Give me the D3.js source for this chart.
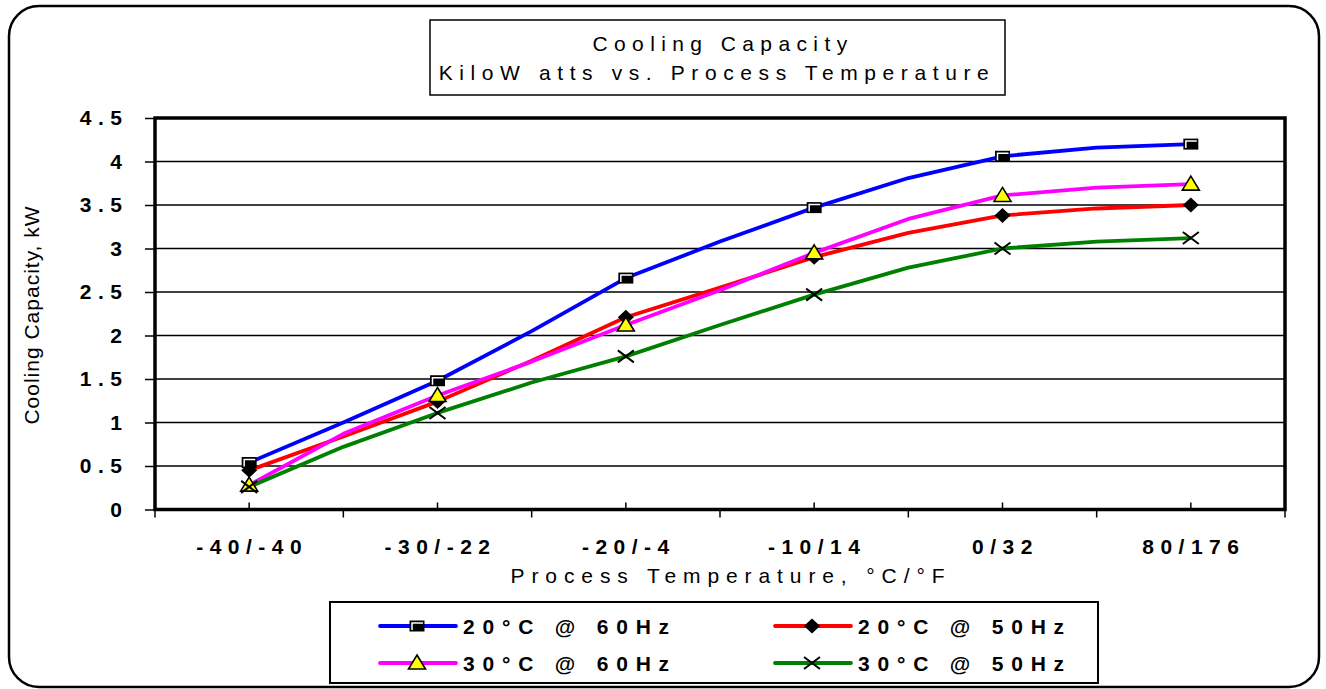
<!DOCTYPE html>
<html>
<head>
<meta charset="utf-8">
<script src="https://cdn.jsdelivr.net/npm/d3@7"></script>
<style>
  body { margin: 0; background: #fff; }
  svg text { font-family: "Liberation Sans", Arial, sans-serif; fill: #000; }
</style>
</head>
<body>
<div id="chart"></div>
<script>
// categories on the x axis (labels at whole steps)
const categories = ["-40/-40", "-30/-22", "-20/-4", "-10/14", "0/32", "80/176"];
// x position of every data point, in category steps
const xSteps = [0, 0.5, 1, 1.5, 2, 2.5, 3, 3.5, 4, 4.5, 5];
// cooling capacity, kW
const blue60 = [0.54, 1.0, 1.48, 2.05, 2.66, 3.08, 3.47, 3.81, 4.06, 4.16, 4.2];
const red50 = [0.45, 0.84, 1.24, 1.71, 2.21, 2.55, 2.9, 3.18, 3.38, 3.46, 3.5];
const pink60 = [0.28, 0.87, 1.31, 1.7, 2.12, 2.52, 2.95, 3.34, 3.61, 3.7, 3.74];
const green50 = [0.26, 0.72, 1.11, 1.46, 1.76, 2.12, 2.47, 2.78, 3.0, 3.08, 3.12];
const yTicks = [0, 0.5, 1, 1.5, 2, 2.5, 3, 3.5, 4, 4.5];
const seriesNames = ["20°C @ 60Hz", "20°C @ 50Hz", "30°C @ 60Hz", "30°C @ 50Hz"];

const width = 1326;
const height = 689;
const plot = { left: 155, right: 1285, top: 118, bottom: 509.5 };

const series = [
  { name: seriesNames[0], values: blue60, color: "#0000ff", marker: "square" },
  { name: seriesNames[1], values: red50, color: "#ff0000", marker: "diamond" },
  { name: seriesNames[2], values: pink60, color: "#ff00ff", marker: "triangle" },
  { name: seriesNames[3], values: green50, color: "#008000", marker: "cross" },
];

const svg = d3
  .select("#chart")
  .append("svg")
  .attr("width", width)
  .attr("height", height);

// outer rounded frame
svg
  .append("rect")
  .attr("x", 9)
  .attr("y", 6)
  .attr("width", 1310)
  .attr("height", 681)
  .attr("rx", 30)
  .attr("fill", "#fff")
  .attr("stroke", "#000")
  .attr("stroke-width", 2.5);

const x = d3.scaleLinear().domain([-0.5, 5.5]).range([plot.left, plot.right]);
const y = d3.scaleLinear().domain([0, 4.5]).range([plot.bottom, plot.top]);

// gridlines
svg
  .append("g")
  .selectAll("line")
  .data(yTicks.slice(1, -1))
  .enter()
  .append("line")
  .attr("x1", plot.left)
  .attr("x2", plot.right)
  .attr("y1", (d) => y(d))
  .attr("y2", (d) => y(d))
  .attr("stroke", "#000")
  .attr("stroke-width", 1.3);

// y axis
const yAxis = svg
  .append("g")
  .attr("transform", `translate(${plot.left},0)`)
  .call(d3.axisLeft(y).tickValues(yTicks).tickSize(10).tickPadding(16.5).tickFormat(d3.format("")));
yAxis.select(".domain").remove();
yAxis.selectAll(".tick line").attr("stroke", "#000").attr("stroke-width", 1.5);
yAxis
  .selectAll(".tick text")
  .attr("font-size", 21)
  .attr("font-weight", "bold")
  .attr("letter-spacing", 6.5)
  .attr("font-family", "Liberation Sans, Arial, sans-serif");

// x axis: outward ticks at category borders, inward ticks at category centres
const xBorders = d3.range(-0.5, 6, 1);
svg
  .append("g")
  .selectAll("line")
  .data(xBorders)
  .enter()
  .append("line")
  .attr("x1", (d) => x(d))
  .attr("x2", (d) => x(d))
  .attr("y1", plot.bottom)
  .attr("y2", plot.bottom + 8)
  .attr("stroke", "#000")
  .attr("stroke-width", 1.5);
svg
  .append("g")
  .selectAll("line")
  .data(categories)
  .enter()
  .append("line")
  .attr("x1", (d, i) => x(i))
  .attr("x2", (d, i) => x(i))
  .attr("y1", plot.bottom)
  .attr("y2", plot.bottom - 7)
  .attr("stroke", "#000")
  .attr("stroke-width", 1.5);
svg
  .append("g")
  .selectAll("text")
  .data(categories)
  .enter()
  .append("text")
  .attr("x", (d, i) => x(i) + 3)
  .attr("y", 554)
  .attr("text-anchor", "middle")
  .attr("font-size", 21)
  .attr("font-weight", "bold")
  .attr("letter-spacing", 6.5)
  .text((d) => d);

// plot frame
svg
  .append("rect")
  .attr("x", plot.left)
  .attr("y", plot.top)
  .attr("width", plot.right - plot.left)
  .attr("height", plot.bottom - plot.top)
  .attr("fill", "none")
  .attr("stroke", "#000")
  .attr("stroke-width", 3.5);

// axis titles
svg
  .append("text")
  .attr("transform", "translate(39,315) rotate(-90)")
  .attr("text-anchor", "middle")
  .attr("font-size", 21)
  .attr("letter-spacing", 1)
  .text("Cooling Capacity, kW");
svg
  .append("text")
  .attr("x", 731)
  .attr("y", 583)
  .attr("text-anchor", "middle")
  .attr("font-size", 21)
  .attr("letter-spacing", 6.9)
  .text("Process Temperature, °C/°F");

// title box
svg
  .append("rect")
  .attr("x", 430)
  .attr("y", 20)
  .attr("width", 575)
  .attr("height", 75)
  .attr("fill", "#fff")
  .attr("stroke", "#000")
  .attr("stroke-width", 1.5);
svg
  .append("text")
  .attr("x", 723)
  .attr("y", 51)
  .attr("text-anchor", "middle")
  .attr("font-size", 21)
  .attr("letter-spacing", 6.4)
  .text("Cooling Capacity");
svg
  .append("text")
  .attr("x", 717)
  .attr("y", 80)
  .attr("text-anchor", "middle")
  .attr("font-size", 21)
  .attr("letter-spacing", 6.6)
  .text("KiloW atts vs. Process Temperature");

// lines
const line = d3
  .line()
  .x((d, i) => x(xSteps[i]))
  .y((d) => y(d));

series.forEach((s) => {
  svg
    .append("path")
    .attr("d", line(s.values))
    .attr("fill", "none")
    .attr("stroke", s.color)
    .attr("stroke-width", 3.8)
    .attr("stroke-linejoin", "round");
});

function drawMarker(g, type) {
  if (type === "square") {
    g.append("rect").attr("x", -7.5).attr("y", -5.5).attr("width", 15).attr("height", 11).attr("fill", "#000");
    g.append("path").attr("d", "M-5,4 V-3 H6").attr("fill", "none").attr("stroke", "#fff").attr("stroke-width", 1.5);
  } else if (type === "diamond") {
    g.append("path").attr("d", "M0,-7.5 L8,0 L0,7.5 L-8,0 Z").attr("fill", "#000");
  } else if (type === "triangle") {
    g.append("path").attr("d", "M0,-8 L8.5,6 L-8.5,6 Z").attr("fill", "#ffff00").attr("stroke", "#000").attr("stroke-width", 1.6);
  } else {
    g.append("path").attr("d", "M-8,-6 L8,6 M-8,6 L8,-6").attr("stroke", "#000").attr("stroke-width", 2);
  }
}

// markers at each labelled category
series.forEach((s) => {
  s.values.forEach((v, i) => {
    if (xSteps[i] % 1 !== 0) return;
    const g = svg.append("g").attr("transform", `translate(${x(xSteps[i])},${y(v)})`);
    drawMarker(g, s.marker);
  });
});

// legend
svg
  .append("rect")
  .attr("x", 330)
  .attr("y", 602)
  .attr("width", 768)
  .attr("height", 81)
  .attr("fill", "#fff")
  .attr("stroke", "#000")
  .attr("stroke-width", 2);

const legendPos = [
  { x: 380, y: 626 },
  { x: 775, y: 626 },
  { x: 380, y: 663 },
  { x: 775, y: 663 },
];
series.forEach((s, i) => {
  const p = legendPos[i];
  const g = svg.append("g").attr("transform", `translate(${p.x},${p.y})`);
  g.append("line").attr("x1", 0).attr("x2", 76).attr("stroke", s.color).attr("stroke-width", 3.8).attr("stroke-linecap", "round");
  drawMarker(g.append("g").attr("transform", "translate(37,0)"), s.marker);
  g.append("text")
    .attr("x", 83)
    .attr("y", 8)
    .attr("font-size", 21)
    .attr("font-weight", "bold")
    .attr("letter-spacing", 7.8)
    .text(s.name);
});
</script>
</body>
</html>
